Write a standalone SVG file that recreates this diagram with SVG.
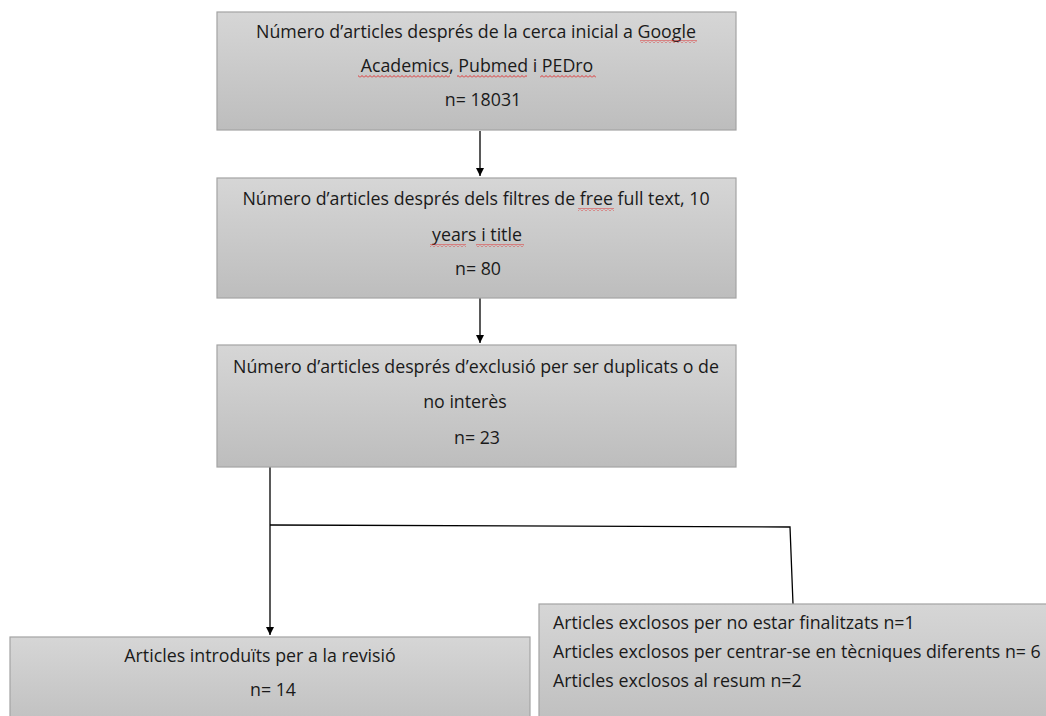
<svg xmlns="http://www.w3.org/2000/svg" width="1046" height="716" viewBox="0 0 1046 716">
<defs>
<linearGradient id="g" x1="0" y1="0" x2="0" y2="1">
<stop offset="0" stop-color="#d6d6d6"/>
<stop offset="1" stop-color="#bdbdbd"/>
</linearGradient>
<pattern id="wave" x="0" y="0" width="4" height="3" patternUnits="userSpaceOnUse">
<path d="M0,2.5 L2,0.5 L4,2.5" stroke="#e02424" stroke-width="0.9" fill="none"/>
</pattern>
<marker id="ah" markerWidth="10" markerHeight="10" refX="8" refY="4" orient="auto" markerUnits="userSpaceOnUse">
<path d="M0,0 L8,4 L0,8 Z" fill="#000"/>
</marker>
</defs>
<style>
.box{fill:url(#g);stroke:#a3a3a3;stroke-width:1.2}
.t{font-family:"Open Sans","Liberation Sans",Arial,sans-serif;font-size:17.8px;fill:#1a1a1a}
.c{text-anchor:middle}
.ln{stroke:#000;stroke-width:1.3;fill:none}
.sq{fill:url(#wave)}
</style>
<rect width="1046" height="716" fill="#fff"/>
<g id="connectors">
<line class="ln" x1="480" y1="131" x2="480" y2="176" marker-end="url(#ah)"/>
<line class="ln" x1="480" y1="298" x2="480" y2="343" marker-end="url(#ah)"/>
<line class="ln" x1="270" y1="467" x2="270" y2="635" marker-end="url(#ah)"/>
<polyline class="ln" points="270,525 790,527 793,604"/>
</g>
<g id="n1">
<rect class="box" x="217" y="12" width="519" height="118"/>
<text class="t c" x="476" y="38">Número d’articles després de la cerca inicial a Google</text>
<text class="t c" x="477" y="72">Academics, Pubmed i PEDro</text>
<text class="t c" x="483" y="106">n= 18031</text>
<rect class="sq" x="640" y="40" width="57" height="3"/>
<rect class="sq" x="358" y="75" width="92" height="3"/>
<rect class="sq" x="457" y="75" width="70" height="3"/>
<rect class="sq" x="540" y="75" width="56" height="3"/>
</g>
<g id="n2">
<rect class="box" x="217" y="178" width="519" height="120"/>
<text class="t c" x="476" y="205">Número d’articles després dels filtres de free full text, 10</text>
<text class="t c" x="477" y="241">years i title</text>
<text class="t c" x="478" y="275">n= 80</text>
<rect class="sq" x="578" y="208" width="36" height="3"/>
<rect class="sq" x="430" y="244" width="36" height="3"/>
<rect class="sq" x="476" y="244" width="48" height="3"/>
</g>
<g id="n3">
<rect class="box" x="217" y="345" width="519" height="122"/>
<text class="t c" x="476" y="373">Número d’articles després d’exclusió per ser duplicats o de</text>
<text class="t c" x="465" y="408">no interès</text>
<text class="t c" x="477" y="444">n= 23</text>
</g>
<g id="n4">
<rect class="box" x="10" y="637" width="520" height="100"/>
<text class="t c" x="260" y="662">Articles introduïts per a la revisió</text>
<text class="t c" x="273" y="696">n= 14</text>
</g>
<g id="n5">
<rect class="box" x="539" y="604" width="520" height="130"/>
<text class="t" x="553" y="629">Articles exclosos per no estar finalitzats n=1</text>
<text class="t" x="553" y="658">Articles exclosos per centrar-se en tècniques diferents n= 6</text>
<text class="t" x="553" y="687">Articles exclosos al resum n=2</text>
</g>
</svg>
